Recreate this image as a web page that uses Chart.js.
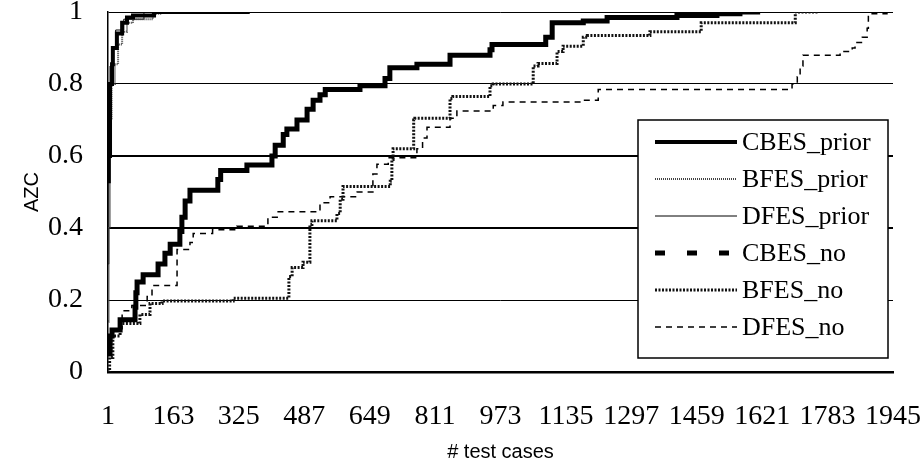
<!DOCTYPE html>
<html>
<head>
<meta charset="utf-8">
<script src="https://cdn.jsdelivr.net/npm/chart.js@4/dist/chart.umd.min.js"></script>
<style>
html,body{margin:0;padding:0;background:#fff;}
#wrap{position:relative;width:924px;height:469px;}
</style>
</head>
<body>
<div id="wrap"><canvas id="c" width="924" height="469"></canvas></div>
<script>
// Axis tick values
const xTicks = [1,163,325,487,649,811,973,1135,1297,1459,1621,1783,1945];
const yTicks = [0,0.2,0.4,0.6,0.8,1];
const xTitle = '# test cases';
const yTitle = 'AZC';

// Series (x = test case where the step occurs, y = AZC after the step)
const cbesPriorX = [1,3,6,11,13,23,36,48,63,115,352];
const cbesPriorY = [0.53,0.6,0.8,0.855,0.9,0.94,0.97,0.985,0.99,1.0,1.0];

const bfesPriorX = [1,3,6,10,18,26,36,48,63,112,135,192];
const bfesPriorY = [0.14,0.4,0.7,0.8,0.855,0.91,0.945,0.97,0.98,0.995,1.0,1.0];

const dfesPriorX = [1,3,6,10,20,40,90,200];
const dfesPriorY = [0.3,0.7,0.85,0.9,0.95,0.98,1.0,1.0];

const cbesNoX = [1,6,11,31,68,70,73,88,125,142,155,179,184,192,204,273,280,345,407,415,435,444,469,494,509,526,539,625,687,699,766,848,947,952,1085,1101,1178,1237,1410,1509,1566,1616];
const cbesNoY = [0.05,0.10,0.117,0.145,0.18,0.22,0.25,0.27,0.30,0.33,0.355,0.39,0.43,0.475,0.505,0.535,0.56,0.575,0.60,0.63,0.66,0.675,0.70,0.73,0.755,0.77,0.785,0.795,0.815,0.845,0.855,0.88,0.895,0.91,0.93,0.97,0.975,0.985,0.99,0.995,1.0,1.0];

const bfesNoX = [1,5,13,31,80,105,135,311,449,457,484,501,506,568,576,583,700,704,707,758,761,848,855,947,955,1054,1066,1113,1128,1178,1188,1343,1470,1703,1760];
const bfesNoY = [0.0,0.04,0.10,0.135,0.16,0.19,0.197,0.205,0.265,0.29,0.305,0.41,0.42,0.44,0.48,0.515,0.53,0.59,0.62,0.70,0.705,0.76,0.765,0.795,0.80,0.85,0.857,0.89,0.905,0.93,0.935,0.945,0.97,1.0,1.0];

const dfesNoX = [1,10,36,60,98,110,172,204,212,260,320,397,420,526,551,618,657,667,695,766,780,791,848,865,955,979,1178,1215,1695,1708,1715,1722,1814,1844,1851,1869,1881,1884,1930,1945];
const dfesNoY = [0.06,0.12,0.17,0.185,0.21,0.24,0.34,0.36,0.385,0.395,0.405,0.43,0.445,0.47,0.487,0.50,0.55,0.577,0.595,0.62,0.65,0.68,0.705,0.725,0.74,0.75,0.755,0.785,0.80,0.82,0.85,0.88,0.89,0.90,0.915,0.93,0.955,0.995,1.0,1.0];

function pts(xs, ys){ return xs.map((x,i)=>({x:x, y:ys[i]})); }

const boxLegend = {
  id: 'boxLegend',
  afterDatasetsDraw(chart){
    const ctx = chart.ctx;
    const bx = 638, by = 120, bw = 250, bh = 238;
    ctx.save();
    ctx.fillStyle = '#fff';
    ctx.fillRect(bx, by, bw, bh);
    ctx.strokeStyle = '#000';
    ctx.lineWidth = 1.5;
    ctx.strokeRect(bx, by, bw, bh);
    chart.data.datasets.forEach((ds, i) => {
      const y = 142 + i * 37;
      ctx.beginPath();
      ctx.setLineDash(ds.legendDash || ds.borderDash || []);
      ctx.lineWidth = ds.legendWidth || ds.borderWidth;
      ctx.strokeStyle = ds.borderColor;
      ctx.lineCap = 'butt';
      ctx.moveTo(655, y);
      ctx.lineTo(737, y);
      ctx.stroke();
      ctx.setLineDash([]);
      ctx.fillStyle = '#000';
      ctx.font = '26px "Liberation Serif"';
      ctx.textBaseline = 'middle';
      ctx.textAlign = 'left';
      ctx.fillText(ds.label, 742, y + 1);
    });
    ctx.restore();
  }
};

const common = {fill:false, pointRadius:0, pointHoverRadius:0, tension:0, stepped:true, borderCapStyle:'butt', borderJoinStyle:'miter'};

new Chart(document.getElementById('c'), {
  type: 'line',
  data: {
    datasets: [
      Object.assign({label:'CBES_prior', data:pts(cbesPriorX,cbesPriorY), borderColor:'#000', borderWidth:4}, common),
      Object.assign({label:'BFES_prior', data:pts(bfesPriorX,bfesPriorY), borderColor:'#444', borderWidth:2, borderDash:[1,1]}, common),
      Object.assign({label:'DFES_prior', data:pts(dfesPriorX,dfesPriorY), borderColor:'#000', borderWidth:1}, common),
      Object.assign({label:'CBES_no', data:pts(cbesNoX,cbesNoY), borderColor:'#000', borderWidth:5, legendDash:[10,22]}, common),
      Object.assign({label:'BFES_no', data:pts(bfesNoX,bfesNoY), borderColor:'#111', borderWidth:3, borderDash:[2,1.5]}, common),
      Object.assign({label:'DFES_no', data:pts(dfesNoX,dfesNoY), borderColor:'#000', borderWidth:1.5, borderDash:[6,5]}, common)
    ]
  },
  options: {
    responsive:false,
    animation:false,
    events:[],
    layout:{padding:{left:10, right:31, top:12, bottom:0}},
    plugins:{legend:{display:false}, tooltip:{enabled:false}, title:{display:false}},
    scales:{
      x:{
        type:'linear', min:1, max:1945,
        afterBuildTicks(s){ s.ticks = xTicks.map(v=>({value:v})); },
        afterFit(s){ s.height = 97; s.paddingLeft = 0; s.paddingRight = 0; },
        ticks:{autoSkip:false, maxRotation:0, minRotation:0, padding:28, color:'#000',
          font:{family:'"Liberation Serif"', size:28}, callback:(v)=>String(v)},
        grid:{display:false, drawTicks:false},
        border:{display:true, color:'#000', width:2.5},
        title:{display:true, text:xTitle, color:'#000', font:{family:'"Liberation Sans"', size:20}, padding:{top:0,bottom:5}}
      },
      y:{
        type:'linear', min:0, max:1,
        afterBuildTicks(s){ s.ticks = yTicks.map(v=>({value:v})); },
        afterFit(s){ s.width = 98; s.paddingTop = 0; s.paddingBottom = 0; },
        ticks:{padding:25, color:'#000', font:{family:'"Liberation Serif"', size:28},
          callback:(v)=>String(Math.round(v*10)/10)},
        grid:{drawTicks:false, color:'#000',
          lineWidth:(c)=>{ const v = c.tick ? c.tick.value : 0; if (v===0) return 0; if (Math.abs(v-0.4)<1e-6 || Math.abs(v-0.6)<1e-6) return 2; return 1; }},
        border:{display:true, color:'#000', width:1.5},
        title:{display:true, text:yTitle, color:'#000', font:{family:'"Liberation Sans"', size:20}, padding:{top:10,bottom:0}}
      }
    }
  },
  plugins:[boxLegend]
});
</script>
</body>
</html>
